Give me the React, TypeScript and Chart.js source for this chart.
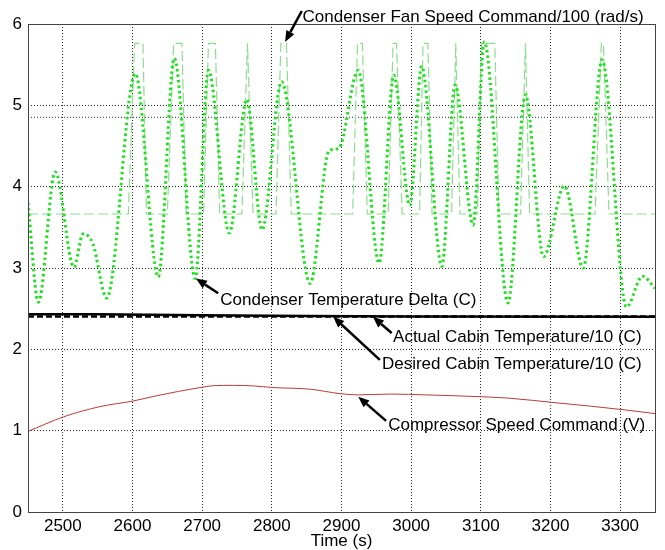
import React, { useEffect, useRef } from "react";
import { Chart, registerables } from "chart.js";

Chart.register(...registerables);

// ---------- tick labels ----------
const xTicks = [2500, 2600, 2700, 2800, 2900, 3000, 3100, 3200, 3300];
const yTicks = [0, 1, 2, 3, 4, 5, 6];
const xTitle = "Time (s)";

// ---------- Condenser Fan Speed Command/100 (rad/s) : dashed light green ----------
const fanTime = [
  2450, 2594, 2603, 2615, 2620, 2650, 2659, 2671, 2677, 2702, 2709, 2719, 2725,
  2757, 2765, 2773, 2806, 2813, 2821, 2828, 2916, 2923, 2930, 2937, 2967, 2974,
  2979, 2987, 3012, 3017, 3024, 3030, 3058, 3064, 3070, 3095, 3101, 3120, 3126,
  3157, 3164, 3170, 3264, 3273, 3276, 3284, 3350,
];
const fanValue = [
  3.664, 3.664, 5.763, 5.763, 3.664, 3.664, 5.763, 5.763, 3.664, 3.664, 5.763, 5.763, 3.664,
  3.664, 5.763, 3.664, 3.664, 5.763, 5.763, 3.664, 3.664, 5.763, 5.763, 3.664, 3.664, 5.763,
  5.763, 3.664, 3.664, 5.763, 5.763, 3.664, 3.664, 5.763, 3.664, 3.664, 5.763, 5.763, 3.664,
  3.664, 5.763, 3.664, 3.664, 5.763, 5.763, 3.664, 3.664,
];

// ---------- Condenser Temperature Delta (C) : dotted bright green ----------
const deltaTime = [
  2450, 2465, 2489, 2516, 2529, 2543, 2563, 2604, 2637, 2660, 2690, 2709, 2739,
  2764, 2786, 2814, 2855, 2882, 2896, 2924, 2954, 2975, 2998, 3015, 3044, 3063,
  3089, 3105, 3139, 3164, 3190, 3220, 3247, 3274, 3309, 3332, 3350,
];
const deltaValue = [
  3.8, 2.58, 4.18, 3.01, 3.42, 3.3, 2.63, 5.39, 2.89, 5.58, 2.87, 5.43, 3.43,
  5.07, 3.47, 5.29, 2.81, 4.44, 4.47, 5.43, 3.06, 5.37, 3.77, 5.48, 3.02, 5.25,
  3.53, 5.78, 2.57, 5.13, 3.14, 4.01, 3.0, 5.56, 2.52, 2.9, 2.75,
];

// ---------- Actual Cabin Temperature/10 (C) : solid black ----------
const actualTime = [2450, 2550, 2700, 2850, 3000, 3350];
const actualValue = [2.43, 2.43, 2.42, 2.41, 2.405, 2.4];

// ---------- Desired Cabin Temperature/10 (C) : dashed black ----------
const desiredTime = [2450, 3350];
const desiredValue = [2.405, 2.405];

// ---------- Compressor Speed Command (V) : thin red ----------
const compTime = [
  2450, 2501, 2553, 2601, 2635, 2697, 2716, 2745, 2774, 2802, 2855, 2898,
  2924, 2972, 3020, 3092, 3140, 3211, 3259, 3307, 3350,
];
const compValue = [
  0.99, 1.17, 1.295, 1.365, 1.43, 1.53, 1.553, 1.557, 1.55, 1.53, 1.51, 1.455,
  1.44, 1.45, 1.44, 1.42, 1.4, 1.34, 1.3, 1.255, 1.21,
];

// ---------- extra dotted reference line ----------
const refLineTime = [2450, 3350];
const refLineValue = [4.853, 4.853];

// ---------- annotations (data coordinates) ----------
const annText = [
  "Condenser Fan Speed Command/100 (rad/s)",
  "Condenser Temperature Delta (C)",
  "Actual Cabin Temperature/10 (C)",
  "Desired Cabin Temperature/10 (C)",
  "Compressor Speed Command (V)",
];
const annTipX = [2819, 2691, 2945, 2888, 2924];
const annTipY = [5.78, 2.87, 2.4, 2.4, 1.418];
const annTailX = [2843, 2723, 2972, 2955, 2964];
const annTailY = [6.16, 2.69, 2.2, 1.87, 1.12];
const annLabelX = [2844, 2726, 2974, 2958, 2967];
const annLabelY = [6.025, 2.55, 2.094, 1.758, 1.008];

const FONT = "'Liberation Sans', Arial, sans-serif";

const pts = (xs: number[], ys: number[]) => xs.map((x, i) => ({ x, y: ys[i] }));

const overlayPlugin = {
  id: "overlay",
  afterDraw(chart: any) {
    const { ctx, chartArea, scales } = chart;
    const xs = scales.x;
    const ys = scales.y;
    ctx.save();
    // axes box
    ctx.strokeStyle = "#444";
    ctx.lineWidth = 1;
    ctx.setLineDash([]);
    ctx.strokeRect(
      Math.round(chartArea.left) + 0.5,
      Math.round(chartArea.top) + 0.5,
      Math.round(chartArea.right - chartArea.left),
      Math.round(chartArea.bottom - chartArea.top)
    );
    // annotations
    ctx.font = `17px ${FONT}`;
    ctx.fillStyle = "#000";
    ctx.strokeStyle = "#000";
    ctx.textAlign = "left";
    ctx.textBaseline = "alphabetic";
    for (let i = 0; i < annText.length; i++) {
      const tx = xs.getPixelForValue(annTipX[i]);
      const ty = ys.getPixelForValue(annTipY[i]);
      const sx = xs.getPixelForValue(annTailX[i]);
      const sy = ys.getPixelForValue(annTailY[i]);
      const ang = Math.atan2(ty - sy, tx - sx);
      const headL = 11;
      const headW = 4.5;
      const bx = tx - headL * Math.cos(ang);
      const by = ty - headL * Math.sin(ang);
      ctx.lineWidth = 2.5;
      ctx.beginPath();
      ctx.moveTo(sx, sy);
      ctx.lineTo(bx, by);
      ctx.stroke();
      ctx.beginPath();
      ctx.moveTo(tx, ty);
      ctx.lineTo(bx + headW * Math.sin(ang), by - headW * Math.cos(ang));
      ctx.lineTo(bx - headW * Math.sin(ang), by + headW * Math.cos(ang));
      ctx.closePath();
      ctx.fill();
      ctx.fillText(
        annText[i],
        xs.getPixelForValue(annLabelX[i]),
        ys.getPixelForValue(annLabelY[i])
      );
    }
    ctx.restore();
  },
};

export default function App() {
  const ref = useRef<HTMLCanvasElement | null>(null);
  useEffect(() => {
    document.body.style.margin = "0";
    const canvas = ref.current;
    if (!canvas) return;
    const chart = new Chart(canvas, {
      type: "line",
      data: {
        datasets: [
          {
            label: "Actual Cabin Temperature/10 (C)",
            data: pts(actualTime, actualValue),
            borderColor: "#000",
            borderWidth: 2.5,
            pointRadius: 0,
            tension: 0,
          },
          {
            label: "Desired Cabin Temperature/10 (C)",
            data: pts(desiredTime, desiredValue),
            borderColor: "#000",
            borderWidth: 2.5,
            borderDash: [6, 3],
            pointRadius: 0,
            tension: 0,
          },
          {
            label: "Condenser Temperature Delta (C)",
            data: pts(deltaTime, deltaValue),
            borderColor: "#1fe01f",
            borderWidth: 3,
            borderDash: [2.5, 3],
            borderCapStyle: "butt",
            pointRadius: 0,
            cubicInterpolationMode: "monotone",
          },
          {
            label: "Condenser Fan Speed Command/100 (rad/s)",
            data: pts(fanTime, fanValue),
            borderColor: "rgb(140,222,140)",
            borderWidth: 1.2,
            borderDash: [10, 4],
            pointRadius: 0,
            tension: 0,
          },
          {
            label: "Compressor Speed Command (V)",
            data: pts(compTime, compValue),
            borderColor: "#b83a3a",
            borderWidth: 1,
            pointRadius: 0,
            cubicInterpolationMode: "monotone",
          },
          {
            label: "ref",
            data: pts(refLineTime, refLineValue),
            borderColor: "rgba(0,0,0,0.85)",
            borderWidth: 1,
            borderDash: [1, 2],
            pointRadius: 0,
            tension: 0,
          },
        ],
      },
      options: {
        animation: false,
        responsive: false,
        events: [],
        layout: { padding: { top: 24, right: 10, left: 0, bottom: 0 } },
        plugins: { legend: { display: false }, tooltip: { enabled: false } },
        scales: {
          x: {
            type: "linear",
            min: 2450,
            max: 3350,
            afterBuildTicks: (s: any) => {
              s.ticks = xTicks.map((v) => ({ value: v }));
            },
            afterFit: (s: any) => {
              s.height = 38;
            },
            grid: {
              color: "rgba(0,0,0,0.85)",
              lineWidth: 1,
              drawTicks: false,
              tickLength: 0,
            },
            border: { display: false, dash: [1, 2] },
            ticks: {
              font: { family: FONT, size: 17 },
              color: "#000",
              padding: 4,
              maxRotation: 0,
              autoSkip: false,
              callback: (v: any) => String(v),
            },
            title: {
              display: true,
              text: xTitle,
              font: { family: FONT, size: 17 },
              color: "#000",
              padding: { top: 0, bottom: -2 },
            },
          },
          y: {
            type: "linear",
            min: 0,
            max: 6,
            afterBuildTicks: (s: any) => {
              s.ticks = yTicks.map((v) => ({ value: v }));
            },
            afterFit: (s: any) => {
              s.width = 28;
            },
            grid: {
              color: "rgba(0,0,0,0.85)",
              lineWidth: 1,
              drawTicks: false,
              tickLength: 0,
            },
            border: { display: false, dash: [1, 2] },
            ticks: {
              font: { family: FONT, size: 17 },
              color: "#000",
              padding: 6,
              autoSkip: false,
              callback: (v: any) => String(v),
            },
          },
        },
      },
      plugins: [overlayPlugin],
    } as any);
    return () => chart.destroy();
  }, []);
  return (
    <canvas
      ref={ref}
      width={665}
      height={550}
      style={{ display: "block", width: 665, height: 550 }}
    />
  );
}
